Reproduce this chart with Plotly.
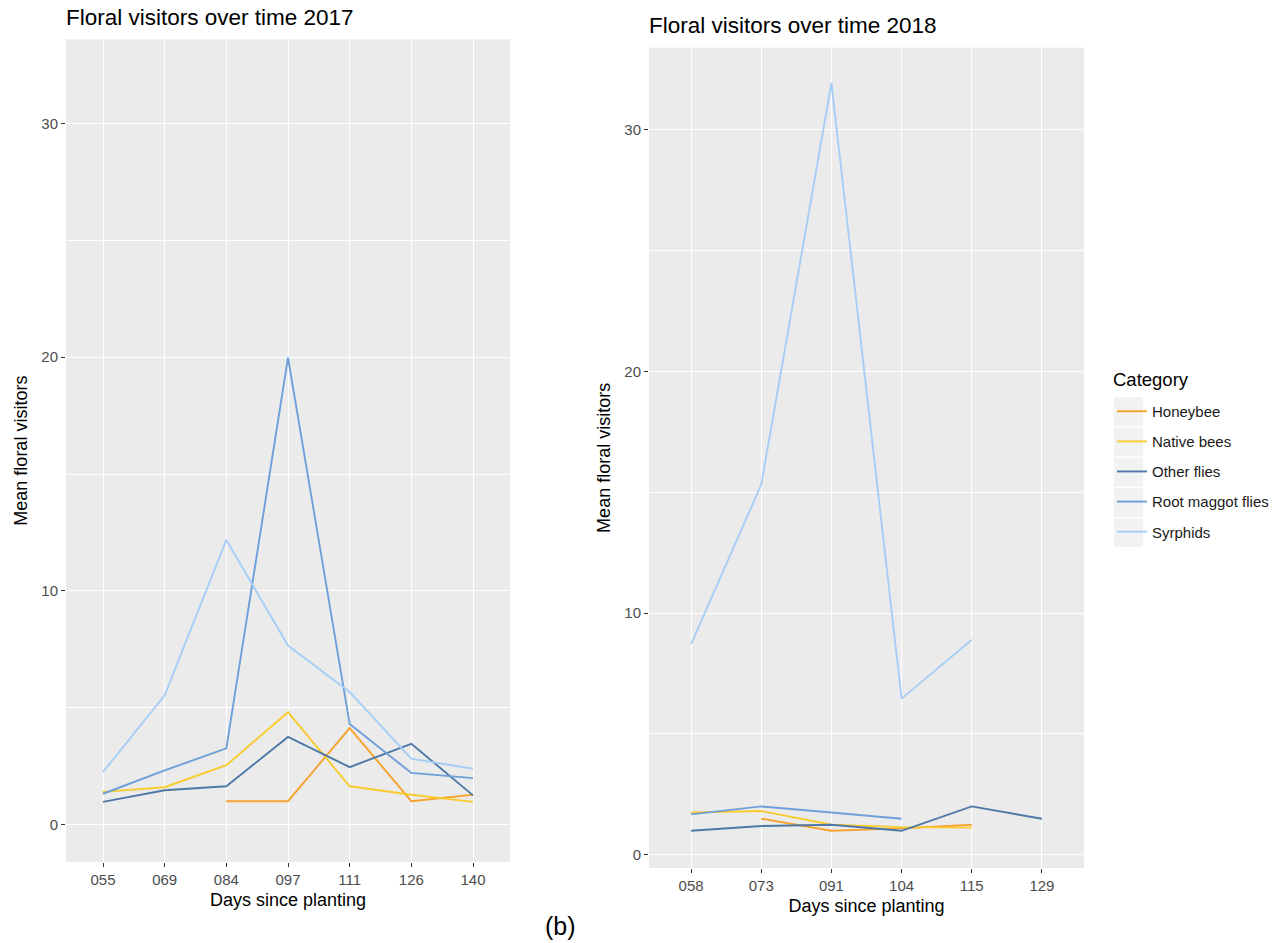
import plotly.graph_objects as go

# ---------------- data ----------------
categories = ["Honeybee", "Native bees", "Other flies", "Root maggot flies", "Syrphids"]
colors = ["#F5A331", "#F8CB2E", "#4E79A7", "#6F9FD8", "#A6CEF7"]

days_2017 = ["055", "069", "084", "097", "111", "126", "140"]
honeybee_2017 = [None, None, 1.0, 1.0, 4.13, 1.0, 1.28]
native_2017 = [1.40, 1.60, 2.54, 4.81, 1.64, 1.28, 0.97]
otherflies_2017 = [0.97, 1.47, 1.64, 3.75, 2.46, 3.46, 1.25]
rootmaggot_2017 = [1.32, 2.32, 3.26, 19.98, 4.30, 2.21, 1.99]
syrphids_2017 = [2.25, 5.53, 12.18, 7.66, 5.67, 2.82, 2.39]

days_2018 = ["058", "073", "091", "104", "115", "129"]
honeybee_2018 = [None, 1.49, 0.99, 1.09, 1.24, None]
native_2018 = [1.75, 1.81, 1.24, 1.14, 1.12, None]
otherflies_2018 = [0.99, 1.19, 1.24, 0.99, 2.00, 1.49]
rootmaggot_2018 = [1.67, 2.00, 1.75, 1.49, None, None]
syrphids_2018 = [8.72, 15.32, 31.93, 6.46, 8.90, None]

y_ticks = [0, 10, 20, 30]

series_2017 = [honeybee_2017, native_2017, otherflies_2017, rootmaggot_2017, syrphids_2017]
series_2018 = [honeybee_2018, native_2018, otherflies_2018, rootmaggot_2018, syrphids_2018]

W, H = 1279, 943
FONT = "Liberation Sans, Arial, sans-serif"

fig = go.Figure()
for name, col, ys in zip(categories, colors, series_2017):
    fig.add_trace(go.Scatter(x=days_2017, y=ys, mode="lines", name=name,
                             line=dict(color=col, width=1.9), legendgroup=name,
                             showlegend=True, xaxis="x", yaxis="y"))
for name, col, ys in zip(categories, colors, series_2018):
    fig.add_trace(go.Scatter(x=days_2018, y=ys, mode="lines", name=name,
                             line=dict(color=col, width=1.9), legendgroup=name,
                             showlegend=False, xaxis="x2", yaxis="y2"))

def px_x(p):
    return p / W

def px_y(p):
    return 1 - p / H

axis_common = dict(
    showgrid=True, gridcolor="white", gridwidth=1.2,
    ticks="outside", ticklen=4, tickwidth=1.1, tickcolor="#333333",
    tickfont=dict(family=FONT, size=15, color="#4D4D4D"),
    showline=False, zeroline=False,
)

fig.update_layout(
    width=W, height=H,
    margin=dict(l=0, r=0, t=0, b=0),
    paper_bgcolor="white",
    plot_bgcolor="#EBEBEB",
    font=dict(family=FONT, color="black"),
    xaxis=dict(**axis_common, type="category", domain=[px_x(66), px_x(510)],
               range=[-0.6, len(days_2017) - 0.4], anchor="y",
               title=dict(text="Days since planting", font=dict(size=18), standoff=6)),
    yaxis=dict(**axis_common, domain=[px_y(862), px_y(39.3)], range=[-1.6, 33.6],
               tickvals=y_ticks, anchor="x",
               minor=dict(dtick=5, tick0=0, showgrid=True, gridcolor="white", gridwidth=0.5),
               title=dict(text="Mean floral visitors", font=dict(size=18), standoff=9)),
    xaxis2=dict(**axis_common, type="category", domain=[px_x(649), px_x(1084)],
                range=[-0.6, len(days_2018) - 0.4], anchor="y2",
                title=dict(text="Days since planting", font=dict(size=18), standoff=6)),
    yaxis2=dict(**axis_common, domain=[px_y(868), px_y(47.7)], range=[-0.55, 33.4],
                tickvals=y_ticks, anchor="x2",
                minor=dict(dtick=5, tick0=0, showgrid=True, gridcolor="white", gridwidth=0.5),
                title=dict(text="Mean floral visitors", font=dict(size=18), standoff=9)),
    legend=dict(
        font=dict(size=15, color="#1a1a1a"),
        x=px_x(1112), xanchor="left", y=px_y(395), yanchor="top",
        bgcolor="rgba(0,0,0,0)", tracegroupgap=7.6, itemwidth=30,
    ),
    annotations=[
        dict(text="Floral visitors over time 2017", xref="paper", yref="paper",
             x=px_x(64), y=px_y(17), xanchor="left", yanchor="middle",
             showarrow=False, font=dict(size=22.5, color="black")),
        dict(text="Floral visitors over time 2018", xref="paper", yref="paper",
             x=px_x(647), y=px_y(26), xanchor="left", yanchor="middle",
             showarrow=False, font=dict(size=22.5, color="black")),
        dict(text="Category", xref="paper", yref="paper",
             x=px_x(1111), y=px_y(379), xanchor="left", yanchor="middle",
             showarrow=False, font=dict(size=18.5, color="black")),
        dict(text="(b)", xref="paper", yref="paper",
             x=px_x(560), y=px_y(926), xanchor="center", yanchor="middle",
             showarrow=False, font=dict(size=25, color="black")),
    ],
)

# grey legend key boxes like ggplot
key_shapes = []
for i in range(len(categories)):
    top = 397 + i * 30.3
    key_shapes.append(dict(type="rect", xref="paper", yref="paper", layer="below",
                           x0=px_x(1114), x1=px_x(1143), y0=px_y(top + 29), y1=px_y(top),
                           fillcolor="#F2F2F2", line=dict(width=0)))
fig.update_layout(shapes=key_shapes)

fig.write_html("out.html", config={"displayModeBar": False},
               post_script="document.body.style.margin='0px';")
